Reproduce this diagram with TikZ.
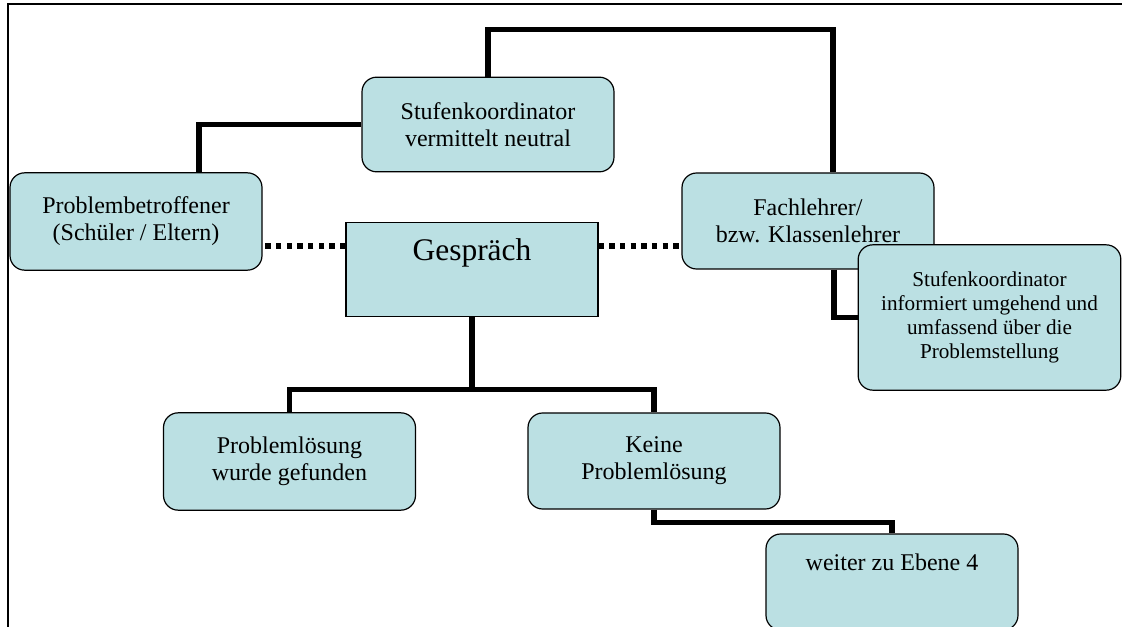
\documentclass[tikz,border=0pt]{standalone}
\usepackage{fontspec}
\setmainfont{Liberation Serif}
\usetikzlibrary{calc}
\definecolor{boxfill}{RGB}{187,224,227}
\begin{document}
\begin{tikzpicture}[x=0.75pt,y=-0.75pt,
  box/.style={draw, line width=0.9pt, fill=boxfill, rounded corners=11pt, align=center,
    inner sep=0pt, minimum width=189pt, minimum height=72pt,
    font=\fontsize{18}{20.3}\selectfont},
  conn/.style={line width=4pt},
  dotline/.style={line width=4pt, dash pattern=on 4pt off 4pt}]
\useasboundingbox (0,0) rectangle (1122,627);
\draw[line width=1.1pt] (1122,4) -- (8,4) -- (8,627);
% boxes
\node[box, minimum height=71pt] (koord) at (488,124.5) {Stufenkoordinator\\vermittelt neutral};
\node[box, minimum height=73pt] (betroff) at (136,221.5) {Problembetroffener\\(Schüler / Eltern)};
\node[box] (fachl) at (808,221) {Fachlehrer/\\bzw. Klassenlehrer};
\node[box, minimum width=197pt, minimum height=109pt, font=\fontsize{15.9}{18}\selectfont] (info) at (989.5,317.5)
  {Stufenkoordinator\\informiert umgehend und\\umfassend über die\\Problemstellung};
\node[box, rounded corners=0pt, minimum height=71pt, text height=17pt, text depth=31pt,
  font=\fontsize{23.6}{27}\selectfont] (gespr) at (472,269.5) {Gespräch};
\node[box, minimum height=73pt] (loesung) at (289.5,461.5) {Problemlösung\\wurde gefunden};
\node[box] (keine) at (654,461) {Keine\\Problemlösung};
\node[box, text height=13pt, text depth=31pt] (weiter) at (892,582) {weiter zu Ebene 4};
% connectors
\draw[conn] (koord.west) -| ($(betroff.north)+(63,0)$);
\draw[conn] (koord.north) -- ++(0,-47) -| ($(fachl.north)+(25,0)$);
\draw[conn] ($(fachl.south)+(26,0)$) |- (info.west);
\draw[conn] (gespr.south) -- ++(0,72) coordinate (gsplit);
\draw[conn] (loesung.north) |- (gsplit) -| (keine.north);
\draw[conn] (keine.south) -- ++(0,13) -| (weiter.north);
% dotted links
\coordinate (gl) at ($(gespr.west)+(0,-23.5)$);
\coordinate (gr) at ($(gespr.east)+(0,-23.5)$);
\draw[dotline] (gl) -- (gl -| betroff.east);
\draw[dotline] (gr) -- (gr -| fachl.west);
\draw[dotline] ($(gespr.north)+(2,0)$) -- ($(gespr.north)+(2,0)$ |- koord.south);
\end{tikzpicture}
\end{document}
